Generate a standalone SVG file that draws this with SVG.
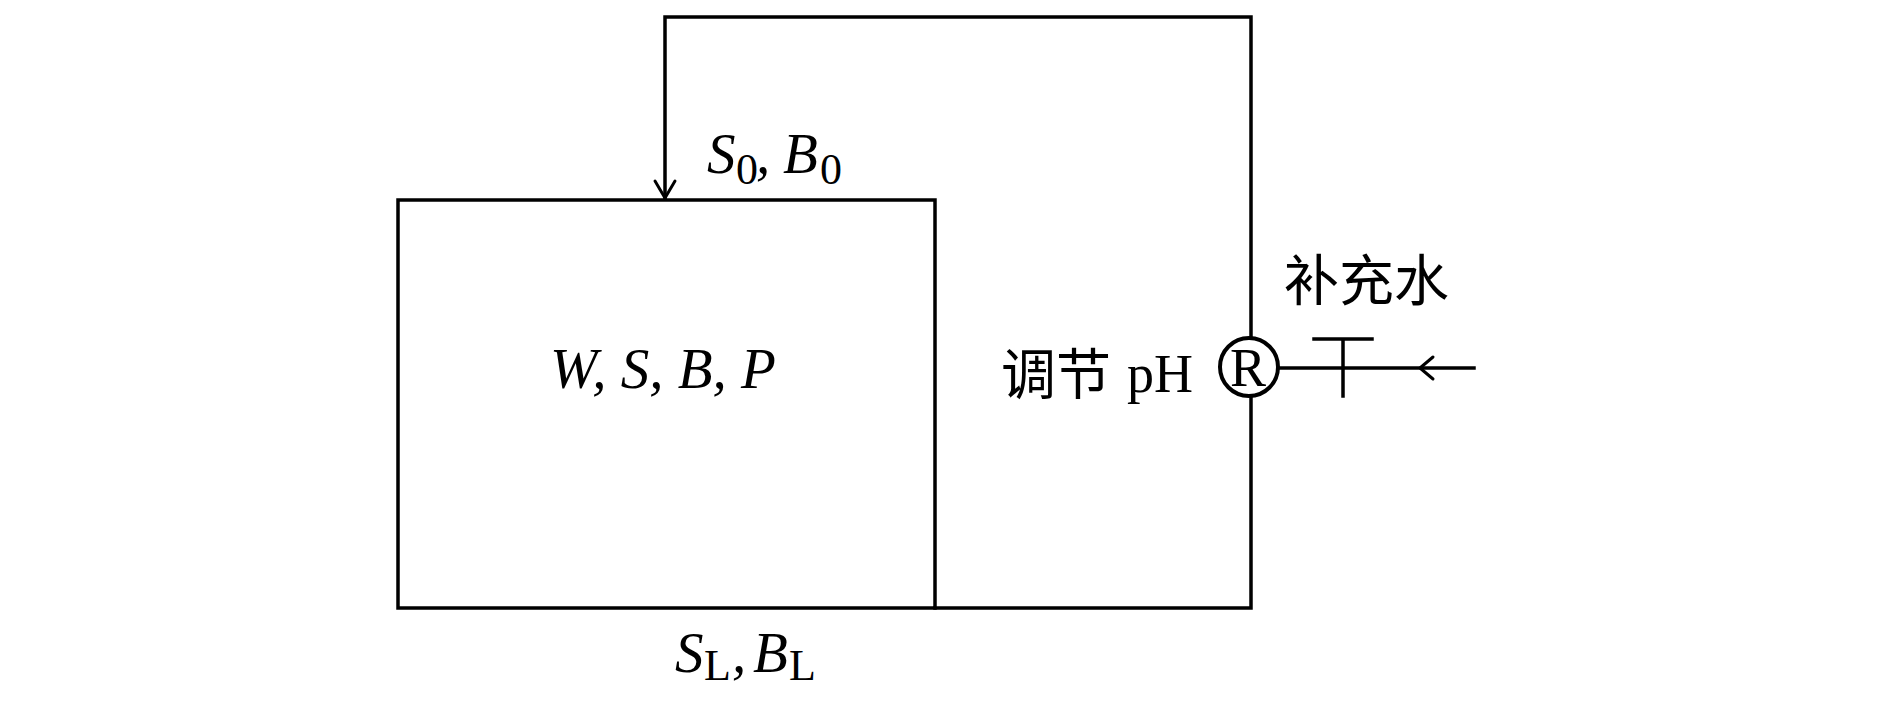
<svg xmlns="http://www.w3.org/2000/svg" width="1887" height="708" viewBox="0 0 1887 708">
<style>
.ln{fill:none;stroke:#000;stroke-width:3.5;stroke-linecap:square}
.ah{fill:none;stroke:#000;stroke-width:3;stroke-linecap:round;stroke-linejoin:round}
.it{font-family:"Liberation Serif","Times New Roman",serif;font-style:italic;font-size:57px;fill:#000}
.sub{font-family:"Liberation Serif","Times New Roman",serif;font-style:normal;font-size:44px;fill:#000}
.rm{font-family:"Liberation Serif","Times New Roman",serif;font-size:54px;fill:#000}
.cjk{font-family:"Liberation Serif","Noto Sans CJK SC",serif;font-size:55px;fill:#000}
</style>
<rect width="1887" height="708" fill="#fff"/>
<g id="connectors">
<path class="ln" d="M665,199 V17 H1251 V608 H935"/>
<path class="ah" d="M655,181 L665,198 L675,181"/>
<path class="ln" d="M1277,368 H1474"/>
<path class="ah" d="M1433,357 L1420,368 L1433,379"/>
</g>
<g id="reactor">
<rect class="ln" x="398" y="200" width="537" height="408"/>
<text class="it" x="550" y="388">W, S, B, P</text>
</g>
<g id="inlet-label">
<text class="it" x="707" y="173">S</text>
<text class="sub" x="736" y="184">0</text>
<text class="it" x="756" y="173">,</text>
<text class="it" x="783" y="173">B</text>
<text class="sub" x="820" y="184">0</text>
</g>
<g id="outlet-label">
<text class="it" x="675" y="672">S</text>
<text class="sub" x="704" y="680">L</text>
<text class="it" x="732" y="672">,</text>
<text class="it" x="753" y="672">B</text>
<text class="sub" x="789" y="680">L</text>
</g>
<g id="ph-regulator">
<circle cx="1249" cy="367" r="29" fill="#fff" stroke="#000" stroke-width="4"/>
<text class="rm" x="1248" y="386" text-anchor="middle">R</text>
<text class="cjk" x="1001" y="394">调节</text>
<text class="rm" x="1127" y="392">pH</text>
</g>
<g id="makeup-water">
<path class="ln" d="M1314,339 H1372 M1343,339 V396"/>
<text class="cjk" x="1284" y="300">补充水</text>
</g>
</svg>
